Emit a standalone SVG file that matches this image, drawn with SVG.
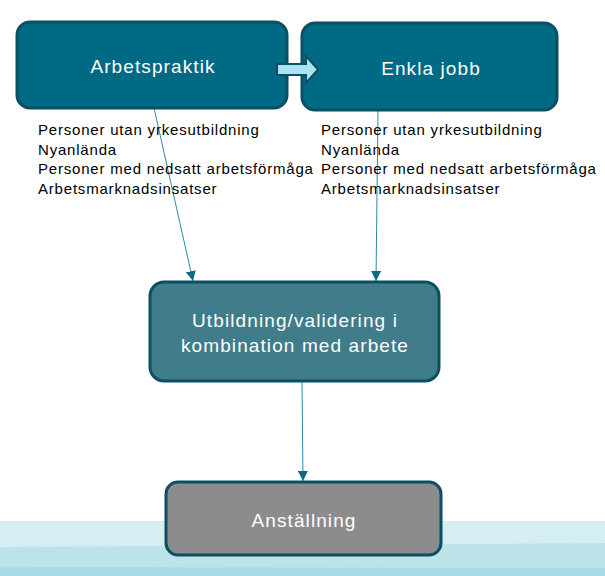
<svg xmlns="http://www.w3.org/2000/svg" width="605" height="576" viewBox="0 0 605 576">
<style>
.box{stroke:#0B4F63;stroke-width:3}
.t{font-family:"Liberation Sans",Arial,sans-serif;fill:#fff;text-anchor:middle;font-size:19px;letter-spacing:1.1px}
.l{font-family:"Liberation Sans",Arial,sans-serif;fill:#000;font-size:15px;letter-spacing:0.8px}
.c{stroke:#2A8AA3;stroke-width:1;fill:none}
</style>
<defs>
<marker id="ah" viewBox="0 0 10 10" refX="10" refY="5" markerWidth="10" markerHeight="10" markerUnits="userSpaceOnUse" orient="auto">
<path d="M0,0 L10,5 L0,10 Z" fill="#0E6A83"/>
</marker>
</defs>
<rect width="605" height="576" fill="#fff"/>
<g id="background">
<polygon points="0,521 605,521 605,576 0,576" fill="#D5EEF2"/>
<polygon points="0,547 605,543 605,576 0,576" fill="#BDE3EA"/>
<polygon points="0,567 605,568 605,576 0,576" fill="#A8DBE5"/>
</g>
<g id="connectors">
<line class="c" x1="154" y1="108" x2="193" y2="281" marker-end="url(#ah)"/>
<line class="c" x1="378" y1="110" x2="376" y2="281" marker-end="url(#ah)"/>
<line class="c" x1="302" y1="382" x2="303" y2="481" marker-end="url(#ah)"/>
</g>
<g id="arbetspraktik">
<rect class="box" x="17" y="22" width="270" height="86" rx="13" fill="#006A84"/>
<text class="t" x="153" y="73">Arbetspraktik</text>
</g>
<g id="enkla-jobb">
<rect class="box" x="302" y="23" width="255" height="87" rx="13" fill="#006A84"/>
<text class="t" x="431" y="75">Enkla jobb</text>
</g>
<g id="arrow">
<polygon points="277,64 306,64 306,56 318,69.5 306,83 306,75 277,75" fill="#A9E4F5" stroke="#0B4F63" stroke-width="2"/>
</g>
<g id="list-left">
<text class="l" x="38" y="135">Personer utan yrkesutbildning</text>
<text class="l" x="38" y="155">Nyanlända</text>
<text class="l" x="38" y="174">Personer med nedsatt arbetsförmåga</text>
<text class="l" x="38" y="194">Arbetsmarknadsinsatser</text>
</g>
<g id="list-right">
<text class="l" x="321" y="135">Personer utan yrkesutbildning</text>
<text class="l" x="321" y="155">Nyanlända</text>
<text class="l" x="321" y="174">Personer med nedsatt arbetsförmåga</text>
<text class="l" x="321" y="194">Arbetsmarknadsinsatser</text>
</g>
<g id="utbildning">
<rect class="box" x="150" y="282" width="289" height="99" rx="14" fill="#417C8A"/>
<text class="t" x="295" y="327">Utbildning/validering i</text>
<text class="t" x="295" y="352">kombination med arbete</text>
</g>
<g id="anstallning">
<rect class="box" x="166" y="482" width="275" height="73" rx="12" fill="#8C8C8C"/>
<text class="t" x="304" y="527">Anställning</text>
</g>
</svg>
